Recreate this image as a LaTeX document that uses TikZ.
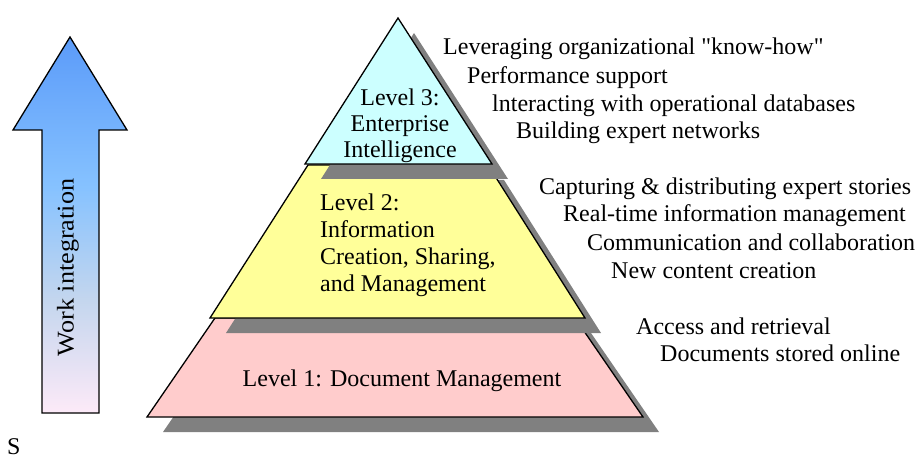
\documentclass[tikz,border=0pt]{standalone}
\usepackage{fontspec}
% plain straight quotes are wanted, so the TeX input mapping is switched off
\setmainfont{Liberation Serif}[Ligatures=TeXOff]

\definecolor{tierpink}{HTML}{FFCCCC}
\definecolor{tieryellow}{HTML}{FFFF99}
\definecolor{tiercyan}{HTML}{CCFFFF}
\definecolor{shadowgrey}{HTML}{808080}
\definecolor{arrowtop}{HTML}{5B9BF9}
\definecolor{arrowsky}{HTML}{86C2FF}
\definecolor{arrowhaze}{HTML}{C4D6EE}
\definecolor{arrowbottom}{HTML}{FDEAF8}

% blue at the head, fading to pale pink at the foot
\pgfdeclareverticalshading{workshade}{100bp}{%
  color(0bp)=(arrowbottom); color(25bp)=(arrowbottom);
  color(40bp)=(arrowhaze); color(55bp)=(arrowsky);
  color(75bp)=(arrowtop); color(100bp)=(arrowtop)}

% outlines of the three tiers
\newcommand\tierone{(215,318) -- (575,318) -- (643,417) -- (147,417) -- cycle}
\newcommand\tiertwo{(308,165) -- (488,165) -- (585,318) -- (210,318) -- cycle}
\newcommand\tierthree{(398,18) -- (492,164) -- (305,164) -- cycle}

\begin{document}
\begin{tikzpicture}[x=1pt,y=-1pt,
  txt/.style={font=\fontsize{24}{27}\selectfont, inner sep=0pt},
  tier/.style={draw=black, line width=1.3pt, line join=miter},
  tiershadow/.style={fill=shadowgrey, draw=none, shift={(16,15)}},
]
\useasboundingbox (0,0) rectangle (918,457);

% rising arrow
\path[draw=black, line width=1.3pt, shading=workshade]
  (70,37) -- (127,130) -- (99,130) -- (99,413) -- (42,413) -- (42,130) -- (13,130) -- cycle;
\node[txt, rotate=90] (work) at (68,267.5) {\scalebox{1.09}[1]{Work integration}};
\node[txt, anchor=base west] (s) at (7,454) {S};

% pyramid, bottom tier first so each upper shadow lies on the tier below
\path[tiershadow] \tierone;
\path[tier, fill=tierpink] \tierone;
\path[tiershadow] \tiertwo;
\path[tier, fill=tieryellow] \tiertwo;
\path[tiershadow] \tierthree;
\path[tier, fill=tiercyan] \tierthree;

\node[txt, font=\fontsize{24}{26}\selectfont, align=center] (l3) at (400,125.4)
  {Level 3:\\Enterprise\\Intelligence};
\node[txt, align=left, anchor=west] (l2) at (320,245)
  {Level 2:\\Information\\Creation, Sharing,\\and Management};
\node[txt, anchor=base] (l1) at (402,386) {Level 1: Document Management};

% activities for each tier
\node[txt, anchor=base west] (a1) at (443,55) {Leveraging organizational "know-how"};
\node[txt, anchor=base west] (a2) at (467,84) {Performance support};
\node[txt, anchor=base west] (a3) at (492,112) {lnteracting with operational databases};
\node[txt, anchor=base west] (a4) at (516,139) {Building expert networks};

\node[txt, anchor=base west] (b1) at (539,195) {Capturing \& distributing expert stories};
\node[txt, anchor=base west] (b2) at (563,222) {Real-time information management};
\node[txt, anchor=base west] (b3) at (587,250) {Communication and collaboration};
\node[txt, anchor=base west] (b4) at (611,278) {New content creation};

\node[txt, anchor=base west] (c1) at (636,334) {Access and retrieval};
\node[txt, anchor=base west] (c2) at (660,361) {Documents stored online};
\end{tikzpicture}
\end{document}
